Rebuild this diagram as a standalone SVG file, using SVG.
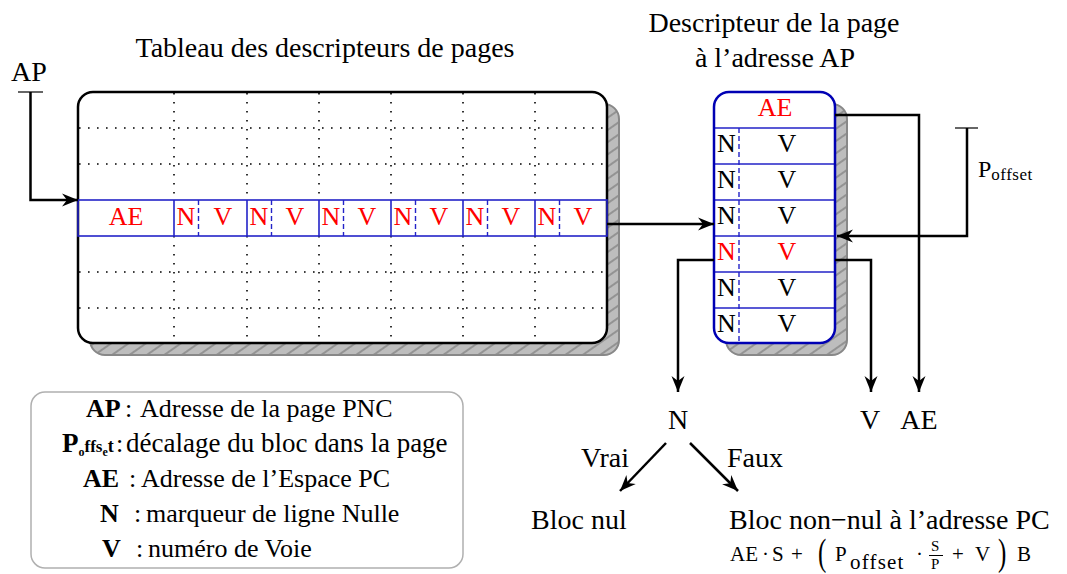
<svg xmlns="http://www.w3.org/2000/svg" width="1067" height="574" viewBox="0 0 1067 574" font-family="Liberation Serif, Times New Roman, serif">
<defs>
<pattern id="hatch" patternUnits="userSpaceOnUse" width="10" height="10" patternTransform="rotate(-35)">
<rect width="10" height="10" fill="#bdbdbd"/>
<line x1="0" y1="5" x2="10" y2="5" stroke="#888" stroke-width="1.6"/>
</pattern>
<marker id="arr" viewBox="-17 -8 18 16" refX="0" refY="0" markerWidth="18" markerHeight="16" markerUnits="userSpaceOnUse" orient="auto">
<path d="M0,0 L-16,-6.5 L-11,0 L-16,6.5 Z" fill="#000"/>
</marker>
</defs>
<style>
text{font-family:Liberation Serif,Times New Roman,serif}
.t28{font-size:28px}
.mid{text-anchor:middle}
.cell{font-size:26px;text-anchor:middle}
.red,.red text{fill:#ff0000}
.conn{fill:none;stroke:#000;stroke-width:2.5;marker-end:url(#arr)}
.bar{stroke:#555;stroke-width:1.8}
.dot{stroke:#000;stroke-width:1.6;stroke-dasharray:1.6 7.4}
.shadow{fill:url(#hatch);stroke:#888;stroke-width:2}
.bl{stroke:#2323c8;stroke-width:1.6;fill:none}
.bd{stroke:#2323c8;stroke-width:1.4;stroke-dasharray:5 3}
.leg{font-size:26px}
.b{font-weight:bold}
.f{font-size:21px}
</style>

<g id="titles">
<text class="t28 mid" x="325" y="57" font-size="28.5">Tableau des descripteurs de pages</text>
<text class="t28 mid" x="774" y="32">Descripteur de la page</text>
<text class="t28 mid" x="775" y="67">à l’adresse AP</text>
<text class="t28 mid" x="29" y="81">AP</text>
</g>

<g id="table">
<rect class="shadow" x="90" y="104" width="529" height="251" rx="15"/>
<rect x="78" y="92" width="529" height="251" rx="15" fill="#fff"/>
<path class="dot" d="M79,128H606M79,164H606M79,272H606M79,308H606"/>
<path class="dot" d="M174,93V200M247,93V200M319,93V200M391,93V200M463,93V200M535,93V200M174,236V342M247,236V342M319,236V342M391,236V342M463,236V342M535,236V342"/>
<rect x="78" y="92" width="529" height="251" rx="15" fill="none" stroke="#000" stroke-width="2.5"/>
<rect class="bl" x="78" y="200" width="529" height="36"/>
<path class="bl" d="M174,200V236M247,200V236M319,200V236M391,200V236M463,200V236M535,200V236"/>
<path class="bd" d="M198.5,200V236M271.5,200V236M343.5,200V236M415.5,200V236M487.5,200V236M559.5,200V236"/>
<g class="cell red">
<text x="126" y="225">AE</text>
<text x="186" y="225">N</text><text x="223" y="225">V</text>
<text x="259" y="225">N</text><text x="295" y="225">V</text>
<text x="331" y="225">N</text><text x="367" y="225">V</text>
<text x="403" y="225">N</text><text x="439" y="225">V</text>
<text x="475" y="225">N</text><text x="511" y="225">V</text>
<text x="547" y="225">N</text><text x="583" y="225">V</text>
</g>
</g>

<g id="descriptor">
<rect class="shadow" x="726" y="104" width="121" height="251" rx="15"/>
<rect x="714" y="92" width="121" height="251" rx="15" fill="#fff"/>
<path class="bl" d="M714,128H835M714,164H835M714,200H835M714,236H835M714,272H835M714,308H835"/>
<path class="bd" d="M739,128V343"/>
<rect x="714" y="92" width="121" height="251" rx="15" fill="none" stroke="#0000b4" stroke-width="2.5"/>
<text class="cell red" x="775" y="116">AE</text>
<g class="cell">
<text x="726.5" y="152">N</text><text x="787" y="152">V</text>
<text x="726.5" y="188">N</text><text x="787" y="188">V</text>
<text x="726.5" y="224">N</text><text x="787" y="224">V</text>
<text class="red" x="726.5" y="260">N</text><text class="red" x="787" y="260">V</text>
<text x="726.5" y="296">N</text><text x="787" y="296">V</text>
<text x="726.5" y="332">N</text><text x="787" y="332">V</text>
</g>
</g>

<g id="poffset-label">
<text x="978" y="177" font-size="24">P<tspan font-size="17" dy="3" letter-spacing="0.5">offset</tspan></text>
</g>

<g id="connectors">
<line class="bar" x1="18" y1="92" x2="43" y2="92"/>
<path class="conn" d="M30.5,92V200H78"/>
<path class="conn" d="M607,224H714"/>
<path class="conn" d="M835,115H919V392"/>
<line class="bar" x1="955" y1="128" x2="978" y2="128"/>
<path class="conn" d="M967,128V236H837"/>
<path class="conn" d="M714,260H678V392"/>
<path class="conn" d="M835,260H871V392"/>
<path class="conn" d="M666,443L620,491"/>
<path class="conn" d="M690,443L738,491"/>
</g>

<g id="outputs">
<text class="t28 mid" x="678" y="429">N</text>
<text class="t28 mid" x="870" y="429">V</text>
<text class="t28 mid" x="919" y="429">AE</text>
<text class="t28" x="629" y="467" text-anchor="end">Vrai</text>
<text class="t28" x="727" y="467">Faux</text>
<text class="t28" x="531" y="529">Bloc nul</text>
<text class="t28" x="729" y="529">Bloc non−nul à l’adresse PC</text>
</g>

<g id="formula">
<text class="f" y="561"><tspan x="730">AE</tspan><tspan x="762">·</tspan><tspan x="772">S</tspan><tspan x="791">+</tspan></text>
<text font-size="25" transform="translate(818,565) scale(1,1.5)">(</text>
<text class="f" x="835" y="561">P</text>
<text font-size="21" x="850" y="569" letter-spacing="1.2">offset</text>
<text class="f" x="916" y="561">·</text>
<text font-size="15" x="931" y="551">S</text>
<line x1="929" y1="555.5" x2="943" y2="555.5" stroke="#000" stroke-width="1"/>
<text font-size="15" x="931" y="569">P</text>
<text class="f" y="561"><tspan x="952">+</tspan><tspan x="975">V</tspan></text>
<text font-size="25" transform="translate(998,565) scale(1,1.5)">)</text>
<text class="f" x="1017" y="561">B</text>
</g>

<g id="legend">
<rect x="31" y="392" width="432" height="176" rx="14" fill="none" stroke="#b0b0b0" stroke-width="1.5"/>
<text class="leg" y="417"><tspan class="b" x="86">AP</tspan><tspan x="125">:</tspan><tspan x="140">Adresse de la page PNC</tspan></text>
<text class="leg" y="452"><tspan class="b" x="62" font-size="27">P</tspan><tspan class="b" font-size="12" dy="4">o</tspan><tspan class="b" font-size="17" dy="-4">ffs</tspan><tspan class="b" font-size="12" dy="4">e</tspan><tspan class="b" font-size="18" dy="-4">t</tspan><tspan x="116">:</tspan><tspan x="126" font-size="27">décalage du bloc dans la page</tspan></text>
<text class="leg" y="487"><tspan class="b" x="83">AE</tspan><tspan x="129">:</tspan><tspan x="141">Adresse de l’Espace PC</tspan></text>
<text class="leg" y="522"><tspan class="b" x="100">N</tspan><tspan x="134">:</tspan><tspan x="146">marqueur de ligne Nulle</tspan></text>
<text class="leg" y="557"><tspan class="b" x="102">V</tspan><tspan x="136">:</tspan><tspan x="148">numéro de Voie</tspan></text>
</g>
</svg>
